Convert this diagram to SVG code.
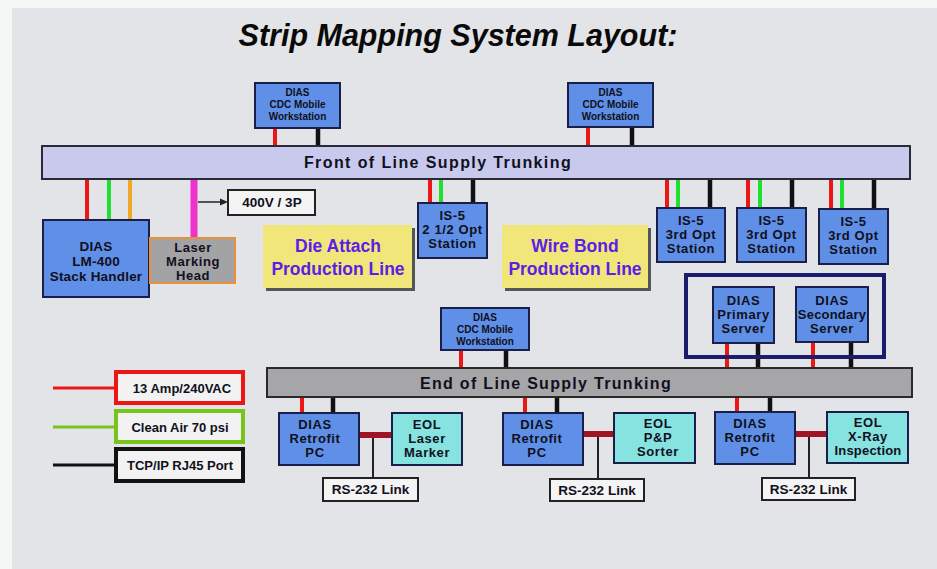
<svg xmlns="http://www.w3.org/2000/svg" width="937" height="569" viewBox="0 0 937 569">
<style>
text{font-family:"Liberation Sans",Arial,sans-serif;font-weight:bold;text-anchor:middle;fill:#101020}
.blue{fill:#5f8fe6;stroke:#1a1f4a;stroke-width:2}
.cyan{fill:#86e3e0;stroke:#1a1f4a;stroke-width:2}
.n{font-size:13px;letter-spacing:0.6px}
.w{font-size:10px}
.yel{fill:#f0e67a;stroke:none}
.sh{fill:#555}
.ytx{font-size:17.5px;fill:#5a20e8}
.lbl{fill:#f4f4f4;stroke:#222;stroke-width:2}
.lt{font-size:13.5px}
.r{stroke:#ee1515;stroke-width:4}
.g{stroke:#1fe030;stroke-width:4}
.o{stroke:#f0a828;stroke-width:4}
.k{stroke:#111;stroke-width:4.5}
.m{stroke:#a01525;stroke-width:6}
.t{stroke:#222;stroke-width:2}
</style>
<rect x="0" y="0" width="937" height="569" fill="#f5f6f6"/>
<rect x="12" y="8" width="925" height="561" fill="#e3e4e7"/>
<text x="458" y="46" style="font-size:30.5px;font-style:italic;fill:#0a0a0a">Strip Mapping System Layout:</text>

<g id="connectors">
  <line class="r" x1="275" y1="128" x2="275" y2="146"/>
  <line class="k" x1="318" y1="128" x2="318" y2="146"/>
  <line class="r" x1="588" y1="127" x2="588" y2="146"/>
  <line class="k" x1="632" y1="127" x2="632" y2="146"/>
  <line class="r" x1="87" y1="179" x2="87" y2="220"/>
  <line class="g" x1="109" y1="179" x2="109" y2="220"/>
  <line class="o" x1="130" y1="179" x2="130" y2="220"/>
  <line stroke="#ee33cc" stroke-width="7" x1="194" y1="179" x2="194" y2="238"/>
  <line stroke="#222" stroke-width="1.5" x1="198" y1="202" x2="222" y2="202"/>
  <polygon points="228,202 220,198.5 220,205.5" fill="#222"/>
  <line class="r" x1="430" y1="179" x2="430" y2="203"/>
  <line class="g" x1="441" y1="179" x2="441" y2="203"/>
  <line class="k" x1="473" y1="179" x2="473" y2="203"/>
  <line class="r" x1="667" y1="179" x2="667" y2="208"/>
  <line class="g" x1="678" y1="179" x2="678" y2="208"/>
  <line class="k" x1="710" y1="179" x2="710" y2="208"/>
  <line class="r" x1="748" y1="179" x2="748" y2="208"/>
  <line class="g" x1="760" y1="179" x2="760" y2="208"/>
  <line class="k" x1="792" y1="179" x2="792" y2="208"/>
  <line class="r" x1="831" y1="179" x2="831" y2="209"/>
  <line class="g" x1="842" y1="179" x2="842" y2="209"/>
  <line class="k" x1="874" y1="179" x2="874" y2="209"/>
  <line class="r" x1="727" y1="343" x2="727" y2="368"/>
  <line class="k" x1="758" y1="343" x2="758" y2="368"/>
  <line class="r" x1="813" y1="342" x2="813" y2="368"/>
  <line class="k" x1="851" y1="342" x2="851" y2="368"/>
  <line class="r" x1="461" y1="350" x2="461" y2="368"/>
  <line class="k" x1="506" y1="350" x2="506" y2="368"/>
  <line class="r" x1="302" y1="397" x2="302" y2="413"/>
  <line class="k" x1="333" y1="397" x2="333" y2="413"/>
  <line class="r" x1="525" y1="397" x2="525" y2="413"/>
  <line class="k" x1="557" y1="397" x2="557" y2="413"/>
  <line class="r" x1="737" y1="397" x2="737" y2="412"/>
  <line class="k" x1="770" y1="397" x2="770" y2="412"/>
  <line class="t" x1="373" y1="435" x2="373" y2="478"/>
  <line class="t" x1="598" y1="434" x2="598" y2="479"/>
  <line class="t" x1="809" y1="434" x2="809" y2="478"/>
  <line class="m" x1="348" y1="435" x2="392" y2="435"/>
  <line class="m" x1="572" y1="434" x2="614" y2="434"/>
  <line class="m" x1="785" y1="434" x2="827" y2="434"/>
</g>

<g id="front-trunk">
  <rect x="42" y="146" width="868" height="33" fill="#c9c9ee" stroke="#2a2a3a" stroke-width="2"/>
  <text x="438" y="168" style="font-size:16px;letter-spacing:1.4px">Front of Line Supply Trunking</text>
</g>
<g id="cdc-ws-1">
  <rect class="blue" x="255" y="83" width="85" height="45"/>
  <text class="w" x="297.5" y="96">DIAS</text><text class="w" x="297.5" y="108">CDC Mobile</text><text class="w" x="297.5" y="120">Workstation</text>
</g>
<g id="cdc-ws-2">
  <rect class="blue" x="568" y="83" width="85" height="44"/>
  <text class="w" x="610.5" y="96">DIAS</text><text class="w" x="610.5" y="108">CDC Mobile</text><text class="w" x="610.5" y="120">Workstation</text>
</g>
<g id="lm400">
  <rect class="blue" x="43" y="220" width="106" height="77"/>
  <text class="n" x="96" y="251" style="font-size:13.5px;letter-spacing:0.2px">DIAS</text>
  <text class="n" x="96" y="266" style="font-size:13.5px;letter-spacing:0.2px">LM-400</text>
  <text class="n" x="96" y="281" style="font-size:13.5px;letter-spacing:0.2px">Stack Handler</text>
</g>
<g id="laser-head">
  <rect x="150" y="238" width="85" height="45" fill="#a3a3a5" stroke="#e8913a" stroke-width="2"/>
  <text class="n" x="193" y="252">Laser</text><text class="n" x="193" y="266">Marking</text><text class="n" x="193" y="280">Head</text>
</g>
<g id="v400">
  <rect class="lbl" x="228" y="190" width="87" height="25"/>
  <text class="lt" x="272" y="207">400V / 3P</text>
</g>
<g id="die-attach">
  <rect class="sh" x="266" y="228" width="149" height="63"/>
  <rect class="yel" x="263" y="225" width="149" height="63"/>
  <text class="ytx" x="338" y="252">Die Attach</text><text class="ytx" x="338" y="275">Production Line</text>
</g>
<g id="wire-bond">
  <rect class="sh" x="505" y="228" width="146" height="63"/>
  <rect class="yel" x="502" y="225" width="146" height="63"/>
  <text class="ytx" x="575" y="252">Wire Bond</text><text class="ytx" x="575" y="275">Production Line</text>
</g>
<g id="is5-half">
  <rect class="blue" x="418" y="203" width="69" height="55"/>
  <text class="n" x="452.5" y="220">IS-5</text><text class="n" x="452.5" y="234">2 1/2 Opt</text><text class="n" x="452.5" y="248">Station</text>
</g>
<g id="is5-3rd-1">
  <rect class="blue" x="657" y="208" width="68" height="54"/>
  <text class="n" x="691" y="225">IS-5</text><text class="n" x="691" y="239">3rd Opt</text><text class="n" x="691" y="253">Station</text>
</g>
<g id="is5-3rd-2">
  <rect class="blue" x="737" y="208" width="69" height="54"/>
  <text class="n" x="771.5" y="225">IS-5</text><text class="n" x="771.5" y="239">3rd Opt</text><text class="n" x="771.5" y="253">Station</text>
</g>
<g id="is5-3rd-3">
  <rect class="blue" x="819" y="209" width="69" height="55"/>
  <text class="n" x="853.5" y="226">IS-5</text><text class="n" x="853.5" y="240">3rd Opt</text><text class="n" x="853.5" y="254">Station</text>
</g>
<g id="server-enclosure">
  <rect x="686" y="275" width="198" height="82" fill="none" stroke="#1c1c6e" stroke-width="4"/>
</g>
<g id="primary-server">
  <rect class="blue" x="713" y="287" width="61" height="56"/>
  <text class="n" x="743.5" y="305">DIAS</text><text class="n" x="743.5" y="319">Primary</text><text class="n" x="743.5" y="333">Server</text>
</g>
<g id="secondary-server">
  <rect class="blue" x="796" y="287" width="72" height="55"/>
  <text class="n" x="832" y="305">DIAS</text><text class="n" x="832" y="319" style="letter-spacing:0.2px">Secondary</text><text class="n" x="832" y="333">Server</text>
</g>
<g id="cdc-ws-3">
  <rect class="blue" x="441" y="308" width="88" height="42"/>
  <text class="w" x="485" y="321">DIAS</text><text class="w" x="485" y="333">CDC Mobile</text><text class="w" x="485" y="345">Workstation</text>
</g>
<g id="end-trunk">
  <rect x="267" y="368" width="645" height="29" fill="#a6a6a8" stroke="#2a2a2a" stroke-width="2"/>
  <text x="546" y="389" style="font-size:16px;letter-spacing:1.3px">End of Line Supply Trunking</text>
</g>
<g id="legend">
  <line stroke="#ee1515" stroke-width="3" x1="53" y1="388" x2="116" y2="388"/>
  <rect x="116" y="372" width="127" height="31" fill="#f2f2f2" stroke="#ee1515" stroke-width="4"/>
  <text class="lt" x="182" y="393" style="font-size:13px">13 Amp/240VAC</text>
  <line stroke="#78c41c" stroke-width="3" x1="53" y1="427" x2="116" y2="427"/>
  <rect x="116" y="411" width="127" height="31" fill="#f2f2f2" stroke="#78c41c" stroke-width="4"/>
  <text class="lt" x="180" y="432" style="font-size:13px">Clean Air 70 psi</text>
  <line stroke="#111" stroke-width="3" x1="53" y1="465" x2="116" y2="465"/>
  <rect x="116" y="449" width="127" height="32" fill="#f2f2f2" stroke="#111" stroke-width="4"/>
  <text class="lt" x="180" y="470" style="font-size:13px">TCP/IP RJ45 Port</text>
</g>
<g id="retrofit-1">
  <rect class="blue" x="279" y="413" width="80" height="52"/>
  <text class="n" x="315" y="429">DIAS</text><text class="n" x="315" y="443">Retrofit</text><text class="n" x="315" y="457">PC</text>
</g>
<g id="eol-laser">
  <rect class="cyan" x="392" y="413" width="70" height="52"/>
  <text class="n" x="427" y="429">EOL</text><text class="n" x="427" y="443">Laser</text><text class="n" x="427" y="457">Marker</text>
</g>
<g id="rs232-1">
  <rect class="lbl" x="323" y="478" width="95" height="23"/>
  <text class="lt" x="370.5" y="494">RS-232 Link</text>
</g>
<g id="retrofit-2">
  <rect class="blue" x="503" y="413" width="80" height="52"/>
  <text class="n" x="537" y="429">DIAS</text><text class="n" x="537" y="443">Retrofit</text><text class="n" x="537" y="457">PC</text>
</g>
<g id="eol-pp">
  <rect class="cyan" x="614" y="413" width="81" height="50"/>
  <text class="n" x="658" y="428">EOL</text><text class="n" x="658" y="442">P&amp;P</text><text class="n" x="658" y="456">Sorter</text>
</g>
<g id="rs232-2">
  <rect class="lbl" x="550" y="479" width="94" height="22"/>
  <text class="lt" x="597" y="495">RS-232 Link</text>
</g>
<g id="retrofit-3">
  <rect class="blue" x="715" y="412" width="80" height="52"/>
  <text class="n" x="750" y="428">DIAS</text><text class="n" x="750" y="442">Retrofit</text><text class="n" x="750" y="456">PC</text>
</g>
<g id="eol-xray">
  <rect class="cyan" x="827" y="412" width="81" height="51"/>
  <text class="n" x="868" y="427">EOL</text><text class="n" x="868" y="441">X-Ray</text><text class="n" x="868" y="455" style="letter-spacing:0.2px">Inspection</text>
</g>
<g id="rs232-3">
  <rect class="lbl" x="762" y="478" width="93" height="22"/>
  <text class="lt" x="808.5" y="494">RS-232 Link</text>
</g>
</svg>
